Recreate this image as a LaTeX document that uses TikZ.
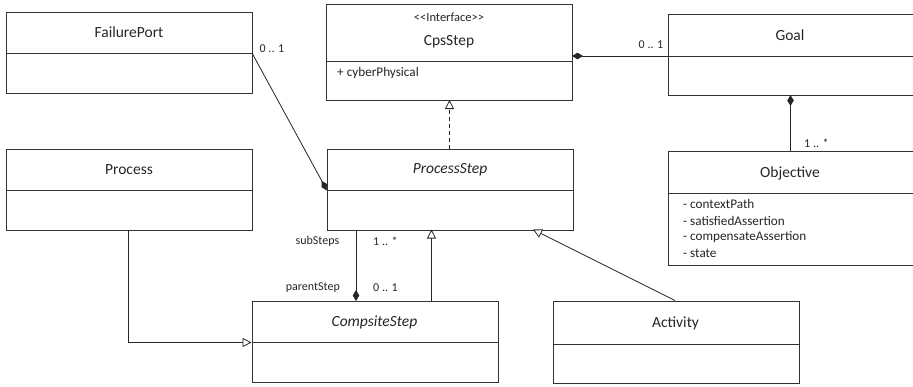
\documentclass[tikz,border=0pt]{standalone}
\usepackage{fontspec}
\setmainfont{Carlito}
\usetikzlibrary{arrows.meta}
\begin{document}
\begin{tikzpicture}[x=1pt,y=-1pt,
  classbox/.style={draw=black!80,line width=0.8pt,fill=white,rectangle,anchor=north west,inner sep=0pt},
  divider/.style={draw=black!80,line width=0.8pt},
  cname/.style={font=\fontsize{15.5}{17}\selectfont,text=black!85,inner sep=0pt},
  attr/.style={font=\fontsize{13.2}{15}\selectfont,text=black!85,inner sep=0pt,anchor=west},
  role/.style={font=\fontsize{12}{14}\selectfont,text=black!85,inner sep=0pt},
  link/.style={draw=black!85,line width=0.8pt},
  compose/.style={link,-{Diamond[length=11pt,width=6.5pt]}},
  inherit/.style={link,-{Triangle[length=9pt,width=9pt,fill=white]}},
  realize/.style={inherit,dash pattern=on 4pt off 3pt}]

\useasboundingbox (0,0) rectangle (913,386);
\fill[white] (0,0) rectangle (913,386);

% class boxes
\node[classbox,minimum width=246pt,minimum height=81pt] (fp) at (6,12) {};
\node[classbox,minimum width=246pt,minimum height=96pt] (cps) at (326,4) {};
\node[classbox,minimum width=245pt,minimum height=81pt] (goal) at (667.5,14) {};
\node[classbox,minimum width=245pt,minimum height=114pt] (obj) at (667.5,151) {};
\node[classbox,minimum width=246pt,minimum height=81pt] (ps) at (327,148.5) {};
\node[classbox,minimum width=246pt,minimum height=81pt] (pr) at (6,148.5) {};
\node[classbox,minimum width=246pt,minimum height=81pt] (cs) at (251.5,301) {};
\node[classbox,minimum width=246pt,minimum height=82pt] (act) at (552.5,300.5) {};

% compartment dividers
\coordinate (fpL) at (6,53);      \coordinate (fpR) at (252,53);
\coordinate (cpsL) at (326,61);   \coordinate (cpsR) at (572,61);
\coordinate (goalL) at (667.5,56);\coordinate (goalR) at (912.5,56);
\coordinate (objL) at (667.5,193);\coordinate (objR) at (912.5,193);
\coordinate (psL) at (327,190.5); \coordinate (psR) at (573,190.5);
\coordinate (prL) at (6,190);     \coordinate (prR) at (252,190);
\coordinate (csL) at (251.5,342.5);\coordinate (csR) at (497.5,342.5);
\coordinate (actL) at (552.5,344);\coordinate (actR) at (798.5,344);
\foreach \a/\b in {fpL/fpR,cpsL/cpsR,goalL/goalR,objL/objR,psL/psR,prL/prR,csL/csR,actL/actR}
  \draw[divider] (\a) -- (\b);

% class names
\node[cname] (fpN) at (129,32) {FailurePort};
\node[role,font=\fontsize{12.5}{14}\selectfont] (cpsS) at (449,17) {<{}<Interface>{}>};
\node[cname] (cpsN) at (449,42) {CpsStep};
\node[attr] (cpsA) at (337,73) {+ cyberPhysical};
\node[cname] (goalN) at (790,35) {Goal};
\node[cname] (objN) at (790,173) {Objective};
\node[attr] (objA1) at (683,204) {- contextPath};
\node[attr] (objA2) at (683,220.7) {- satisfiedAssertion};
\node[attr] (objA3) at (683,237.3) {- compensateAssertion};
\node[attr] (objA4) at (683,253.5) {- state};
\node[cname] (psN) at (450,169.5) {\itshape ProcessStep};
\node[cname] (prN) at (129,169.5) {Process};
\node[cname] (csN) at (374.5,322.5) {\itshape CompsiteStep};
\node[cname] (actN) at (675.5,323.5) {Activity};

% connector end points
\coordinate (cpsB) at (449.5,100);
\coordinate (psT) at (449.5,148.5);
\coordinate (psB1) at (356,229.5);
\coordinate (csT1) at (356,301);
\coordinate (psB2) at (431.5,229.5);
\coordinate (csT2) at (431.5,301);
\coordinate (psB3) at (533,229.5);
\coordinate (actT) at (675,300.5);
\coordinate (prB) at (128.5,229.5);
\coordinate (goalB) at (790.5,95);
\coordinate (objT) at (790.5,151);
\coordinate (cpsE) at (572,56);

% connectors
\draw[compose] (fpR) -- (psL);
\draw[compose] (goalL) -- (cpsE);
\draw[compose] (objT) -- (goalB);
\draw[compose] (psB1) -- (csT1);
\draw[realize] (psT) -- (cpsB);
\draw[inherit] (csT2) -- (psB2);
\draw[inherit] (actT) -- (psB3);
\draw[inherit] (prB) |- (csL);

% multiplicities and role names
\node[role,anchor=west] (m1) at (259.5,49) {0 .. 1};
\node[role,anchor=west] (m2) at (638.5,45) {0 .. 1};
\node[role,anchor=west] (m3) at (804,143) {1 .. *};
\node[role,anchor=east] (r1) at (339.5,241.5) {subSteps};
\node[role,anchor=west] (m4) at (373,241.5) {1 .. *};
\node[role,anchor=east] (r2) at (340,288) {parentStep};
\node[role,anchor=west] (m5) at (373,288) {0 .. 1};
\end{tikzpicture}
\end{document}
